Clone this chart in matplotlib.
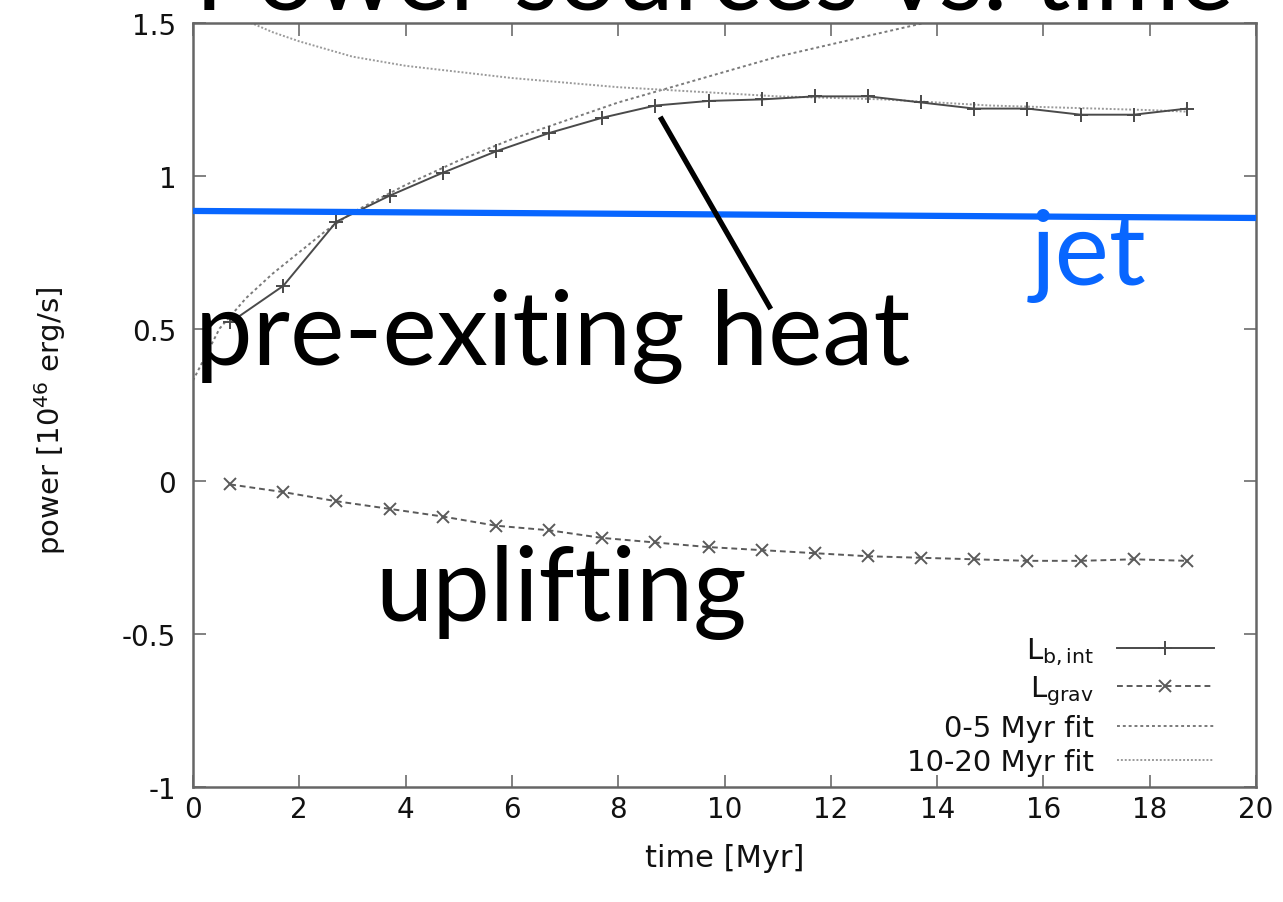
import matplotlib
matplotlib.use("Agg")
import matplotlib.pyplot as plt

# --- data -----------------------------------------------------------------
t_sim = [0.7, 1.7, 2.7, 3.7, 4.7, 5.7, 6.7, 7.7, 8.7, 9.7,
         10.7, 11.7, 12.7, 13.7, 14.7, 15.7, 16.7, 17.7, 18.7]
L_b_int = [0.52, 0.64, 0.85, 0.935, 1.01, 1.08, 1.14, 1.19, 1.23, 1.245,
           1.25, 1.26, 1.26, 1.24, 1.22, 1.22, 1.20, 1.20, 1.22]
L_grav = [-0.01, -0.035, -0.065, -0.09, -0.115, -0.145, -0.16, -0.185, -0.20, -0.215,
          -0.225, -0.235, -0.245, -0.25, -0.255, -0.26, -0.26, -0.255, -0.26]

t_fit_early = [0.0, 0.5, 1.0, 1.5, 2.0, 2.5, 3.0, 4.0, 5.0, 6.0, 7.0,
               8.0, 9.0, 10.0, 11.0, 12.0, 13.0, 14.0, 15.0]
fit_early = [0.33, 0.50, 0.60, 0.68, 0.75, 0.82, 0.88, 0.97, 1.05, 1.12, 1.18,
             1.24, 1.29, 1.34, 1.39, 1.43, 1.47, 1.51, 1.55]

t_fit_late = [0.8, 1.1, 1.5, 2.0, 3.0, 4.0, 5.0, 6.0, 7.0, 8.0, 9.0, 10.0,
              11.0, 12.0, 13.0, 14.0, 15.0, 16.0, 17.0, 18.0, 18.7]
fit_late = [1.56, 1.50, 1.47, 1.44, 1.39, 1.36, 1.34, 1.32, 1.305, 1.29, 1.28, 1.27,
            1.26, 1.255, 1.25, 1.24, 1.23, 1.225, 1.22, 1.215, 1.21]

t_jet = [0.0, 20.0]
jet = [0.885, 0.862]

# pointer from the heat label to the internal-energy curve
pointer_t = [8.79, 10.87]
pointer_p = [1.193, 0.564]

x_ticks = [0, 2, 4, 6, 8, 10, 12, 14, 16, 18, 20]
y_ticks = [-1, -0.5, 0, 0.5, 1, 1.5]
y_tick_labels = ["-1", "-0.5", "0", "0.5", "1", "1.5"]

# --- figure ---------------------------------------------------------------
plt.rcParams["font.family"] = ["DejaVu Sans"]
plt.rcParams["mathtext.default"] = "regular"

fig = plt.figure(figsize=(12.83, 9.03), dpi=100)
ax = fig.add_axes([0.1504, 0.1274, 0.8286, 0.846])

data_col = "#4a4a4a"
ax.plot(t_sim, L_b_int, color=data_col, lw=1.4, marker="+", ms=10, mew=1.4,
        label=r"L$_{b,int}$", zorder=3)
ax.plot(t_sim, L_grav, color="#5a5a5a", lw=1.4, ls=(0, (3, 2)), marker="x", ms=8,
        mew=1.4, label=r"L$_{grav}$", zorder=3)
ax.plot(t_fit_early, fit_early, color="#7a7a7a", lw=1.4, ls=(0, (1.5, 1.5)),
        label="0-5 Myr fit", zorder=2)
ax.plot(t_fit_late, fit_late, color="#9a9a9a", lw=1.4, ls=(0, (1, 1)),
        label="10-20 Myr fit", zorder=2)

ax.plot(t_jet, jet, color="#0866FF", lw=4.5, solid_capstyle="butt", zorder=4,
        clip_on=False)
ax.plot(pointer_t, pointer_p, color="black", lw=3.8, solid_capstyle="butt", zorder=5)

ax.set_xlim(0, 20)
ax.set_ylim(-1, 1.5)
ax.set_xticks(x_ticks)
ax.set_yticks(y_ticks)
ax.set_yticklabels(y_tick_labels)
ax.tick_params(direction="in", length=9, width=1.3, color="#777777",
               top=True, right=True, labelsize=20, labelcolor="#111111")
ax.tick_params(axis="x", pad=6)
ax.tick_params(axis="y", pad=12)
for s in ax.spines.values():
    s.set_color("#666666")
    s.set_linewidth(1.8)

ax.set_xlabel("time [Myr]", fontsize=22, labelpad=14, color="#111111")
ax.set_ylabel(r"power [10$^{46}$ erg/s]", fontsize=21, color="#111111")
ax.yaxis.set_label_coords(-0.118, 0.48)

leg = ax.legend(loc="lower right", markerfirst=False, frameon=False, fontsize=21,
                handlelength=3.3, handletextpad=0.8, labelspacing=0.22,
                borderaxespad=0.0, borderpad=0.0, bbox_to_anchor=(0.96, 0.014))
for txt in leg.get_texts():
    txt.set_color("#111111")

# --- annotations ----------------------------------------------------------
big = dict(family=["Lato", "DejaVu Sans"], fontsize=74)
ax.text(0.04, 0.384, "pre-exiting heat", color="black", va="baseline", ha="left",
        zorder=6, **big)
ax.text(3.43, -0.452, "uplifting", color="black", va="baseline", ha="left",
        zorder=6, **big)
ax.text(15.76, 0.646, "jet", color="#0866FF", va="baseline", ha="left",
        zorder=6, **big)

fig.text(0.152, 1 - 10 / 903, "Power sources vs. time", color="black",
         va="baseline", ha="left", **big)

fig.savefig("out.png", dpi=100)
